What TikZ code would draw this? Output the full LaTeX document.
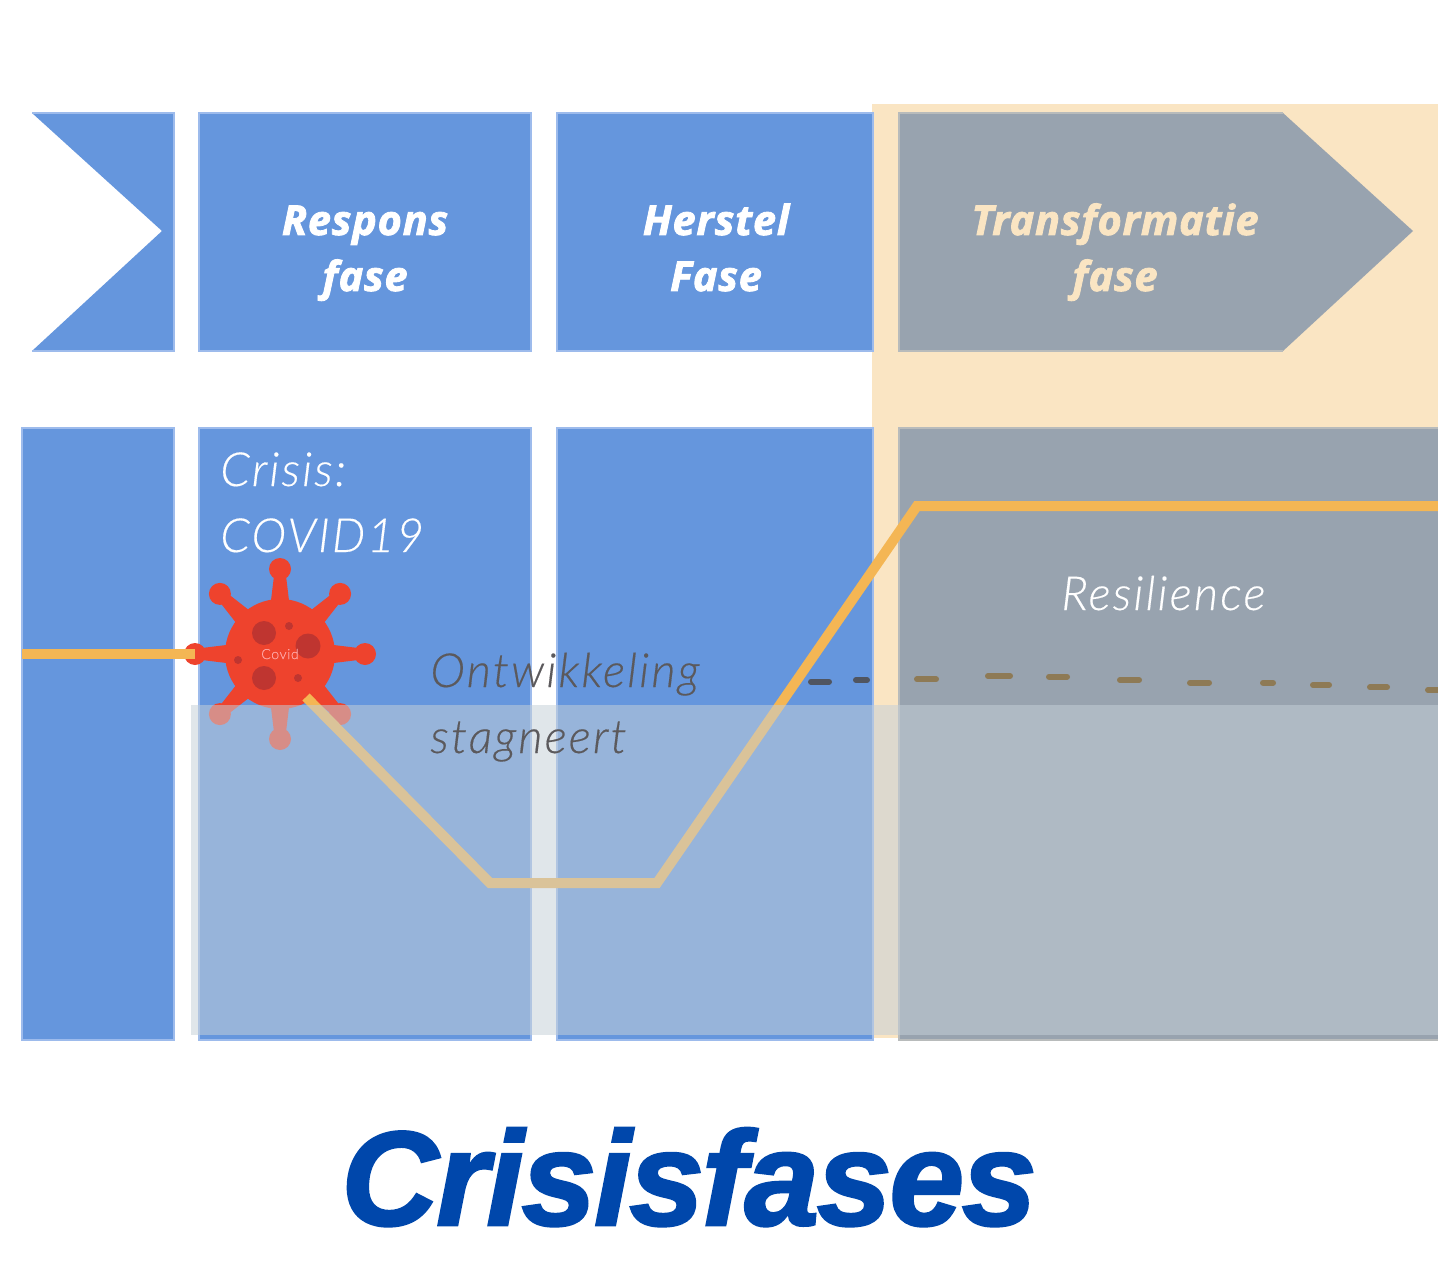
\documentclass[tikz,border=0pt]{standalone}
\usepackage{fontspec}
\setmainfont{Lato}[UprightFont=* Light,ItalicFont=* Light Italic,LetterSpace=4.6,FakeBold=0.3]
\newfontfamily\phasefont{Open Sans}[FakeBold=2,LetterSpace=2]
\newfontfamily\titlefont{Liberation Sans}[FakeBold=2,LetterSpace=-1.5]
\definecolor{boxblue}{HTML}{6596DD}
\definecolor{edgeblue}{HTML}{9DBBEC}
\definecolor{boxgrey}{HTML}{98A3AF}
\definecolor{edgegrey}{HTML}{B8BBBB}
\definecolor{cream}{HTML}{FAE5C3}
\definecolor{lineorange}{HTML}{F4B654}
\definecolor{virusred}{HTML}{EE432D}
\definecolor{spotred}{HTML}{BF3530}
\definecolor{veil}{RGB}{196,207,216}
\definecolor{textgrey}{HTML}{5B595C}
\definecolor{titleblue}{HTML}{0047AB}
\definecolor{dashdark}{HTML}{505560}
\definecolor{dashbrown}{HTML}{8E7A55}
\tikzset{
	bluebox/.style={fill=boxblue,draw=edgeblue,line width=1pt},
	greybox/.style={fill=boxgrey,draw=edgegrey,line width=1pt},
	phasetext/.style={font=\phasefont\bfseries\itshape\fontsize{20.7}{28}\selectfont,align=center,anchor=base,inner sep=0pt},
	plaintext/.style={font=\itshape\fontsize{23.5}{33}\selectfont,align=left,anchor=base west,inner sep=0pt},
	resline/.style={lineorange,line width=5pt,line join=miter},
	dashpiece/.style={line width=3pt,line cap=round}
}
\begin{document}
\begin{tikzpicture}[x=0.5pt,y=-0.5pt]
	\useasboundingbox (0,0) rectangle (1438,1261);
	\path
	(22,654) coordinate (start)
	(195,654) coordinate (hit)
	(306,697) coordinate (drop)
	(490,883) coordinate (lowa)
	(657,883) coordinate (lowb)
	(917,506) coordinate (top)
	(1438,506) coordinate (end)
	(280,654) coordinate (virus);
	% band behind the last phase
	\fill[cream] (872,104) rectangle (1438,1038);
	% upper row
	\fill[boxblue] (32,113)--(174,113)--(174,351)--(32,351)--(162,231)--cycle;
	\draw[draw=edgeblue,line width=1pt] (32,113)--(174,113)--(174,351)--(32,351);
	\draw[bluebox] (199,113) rectangle (531,351);
	\draw[bluebox] (557,113) rectangle (873,351);
	\fill[boxgrey] (899,113)--(1283,113)--(1413,231)--(1283,351)--(899,351)--cycle;
	\draw[draw=edgegrey,line width=1pt] (1283,113)--(899,113)--(899,351)--(1283,351);
	% lower row
	\draw[bluebox] (22,428) rectangle (174,1040);
	\draw[bluebox] (199,428) rectangle (531,1040);
	\draw[bluebox] (557,428) rectangle (873,1040);
	\draw[greybox] (899,428) rectangle (1445,1040);
	% virus
	\foreach \g in {0,45,...,315} {
		\fill[virusred,shift={(virus)}] (\g-11:50)--(\g-3.5:85)--(\g+3.5:85)--(\g+11:50)--cycle;
		\fill[virusred] (virus) +(\g:85) circle (11);
	}
	\fill[virusred] (virus) circle (55);
	\foreach \x/\y/\r in {264/633/12,308/646/12.5,264/678/12,289/626/4,238/660/4,298/678/4}
		\fill[spotred] (\x,\y) circle (\r);
	\node[text=red!35!white,font=\fontsize{7}{8}\selectfont,inner sep=0pt] (viruslabel) at (280,654) {Covid};
	% curve
	\draw[resline] (start)--(hit);
	\draw[resline] (drop)--(lowa)--(lowb)--(top)--(end);
	% old trend
	\foreach \a/\b/\y/\c in {811/829/681.7/dashdark,856/867/680/dashdark,917/936/679.3/dashbrown,988/1010/676/dashbrown,1049/1067/676.7/dashbrown,1120/1139/680/dashbrown,1190/1209/682.7/dashbrown,1263/1273/682.7/dashbrown,1313/1329/685/dashbrown,1370/1387/687.3/dashbrown,1428/1438/690/dashbrown}
		\draw[dashpiece,\c] (\a,\y)--(\b,\y);
	% veil over the lower part
	\fill[veil,opacity=.53] (191,705) rectangle (1438,1035);
	% texts
	\node[phasetext,text=white] (respons) at (365,291) {Respons\\fase};
	\node[phasetext,text=white] (herstel) at (716,291) {Herstel\\Fase};
	\node[phasetext,text=cream] (transformatie) at (1115,291) {Transformatie\\fase};
	\node[plaintext,text=white] (crisis) at (220,552) {Crisis:\\COVID19};
	\node[plaintext,text=white] (resilience) at (1061,610) {Resilience};
	\node[plaintext,text=textgrey] (stagnatie) at (430,753) {Ontwikkeling\\stagneert};
	\node[font=\titlefont\bfseries\itshape\fontsize{67}{67}\selectfont,text=titleblue,anchor=base,inner sep=0pt] (title) at (689,1225) {Crisisfases};
\end{tikzpicture}
\end{document}
